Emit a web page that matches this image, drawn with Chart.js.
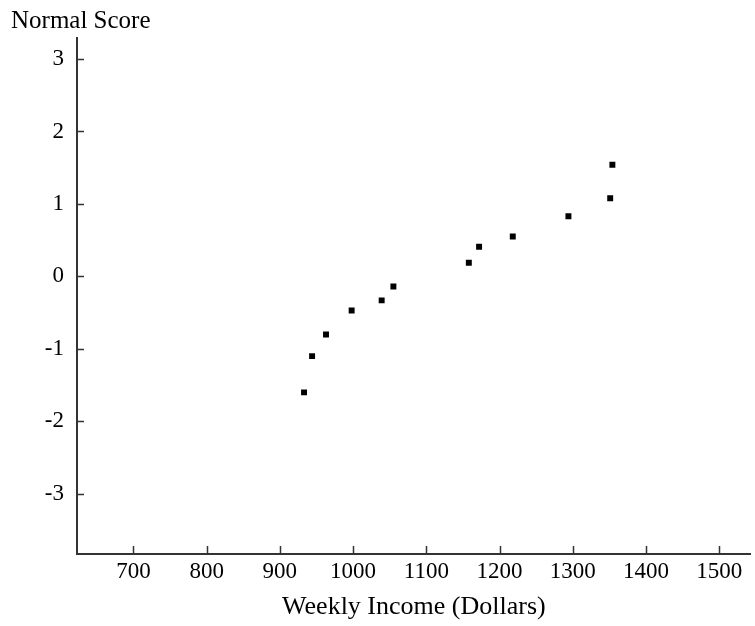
<!DOCTYPE html>
<html>
<head>
<meta charset="utf-8">
<script src="https://cdn.jsdelivr.net/npm/chart.js@4"></script>
<style>
  body { margin: 0; background: #fff; }
</style>
</head>
<body>
<canvas id="normalPlot" width="755" height="626"></canvas>
<script>
const incomes = [933, 944, 963, 998, 1039, 1055, 1158, 1172, 1218, 1294, 1351, 1354];
const normalScores = [-1.60, -1.10, -0.80, -0.47, -0.33, -0.14, 0.19, 0.41, 0.55, 0.83, 1.08, 1.54];
const xTicks = [700, 800, 900, 1000, 1100, 1200, 1300, 1400, 1500];
const yTicks = [-3, -2, -1, 0, 1, 2, 3];

const axisColor = '#333';
const fontFamily = "'Liberation Serif', 'Times New Roman', serif";

// tick marks point into the plot, so draw them here instead of with the grid
const innerTicks = {
  id: 'innerTicks',
  afterDraw(chart) {
    const { ctx, scales: { x, y } } = chart;
    ctx.save();
    ctx.strokeStyle = axisColor;
    ctx.lineWidth = 1.5;
    ctx.beginPath();
    xTicks.forEach(v => {
      const px = Math.round(x.getPixelForValue(v)) + 0.5;
      ctx.moveTo(px, x.top);
      ctx.lineTo(px, x.top - 8);
    });
    yTicks.forEach(v => {
      const py = Math.round(y.getPixelForValue(v)) + 0.5;
      ctx.moveTo(y.right, py);
      ctx.lineTo(y.right + 7, py);
    });
    ctx.stroke();
    ctx.restore();
  }
};

const ctx = document.getElementById('normalPlot').getContext('2d');
new Chart(ctx, {
  type: 'scatter',
  data: {
    datasets: [{
      label: 'Normal Score',
      data: incomes.map((v, i) => ({ x: v, y: normalScores[i] })),
      backgroundColor: '#000',
      borderWidth: 0,
      pointStyle: 'rect',
      pointRadius: 4.2
    }]
  },
  plugins: [innerTicks],
  options: {
    responsive: false,
    animation: false,
    layout: { padding: { left: 11, right: 0, top: 0, bottom: 0 } },
    plugins: {
      legend: { display: false },
      tooltip: { enabled: false },
      title: {
        display: true,
        text: 'Normal Score',
        align: 'start',
        color: '#000',
        font: { family: fontFamily, size: 25, weight: 'normal' },
        padding: { top: 6, bottom: 2 }
      }
    },
    scales: {
      x: {
        type: 'linear',
        min: 623,
        max: 1543,
        afterBuildTicks: scale => { scale.ticks = xTicks.map(v => ({ value: v })); },
        afterFit: scale => {
          scale.height = 72;
          scale.paddingRight = 0;
        },
        grid: { display: false, drawTicks: false },
        border: { display: true, color: axisColor, width: 2 },
        ticks: {
          color: '#000',
          padding: 4,
          maxRotation: 0,
          autoSkip: false,
          font: { family: fontFamily, size: 23 },
          callback: value => String(value)
        },
        title: {
          display: true,
          text: 'Weekly Income (Dollars)',
          color: '#000',
          font: { family: fontFamily, size: 26 },
          padding: { top: 0, bottom: 3 }
        }
      },
      y: {
        type: 'linear',
        min: -3.83,
        max: 3.29,
        afterBuildTicks: scale => { scale.ticks = yTicks.map(v => ({ value: v })); },
        afterFit: scale => { scale.width = 66; },
        grid: { display: false, drawTicks: false },
        border: { display: true, color: axisColor, width: 2 },
        ticks: {
          color: '#000',
          padding: 13,
          autoSkip: false,
          font: { family: fontFamily, size: 23 },
          callback: value => String(value)
        }
      }
    }
  }
});
</script>
</body>
</html>
